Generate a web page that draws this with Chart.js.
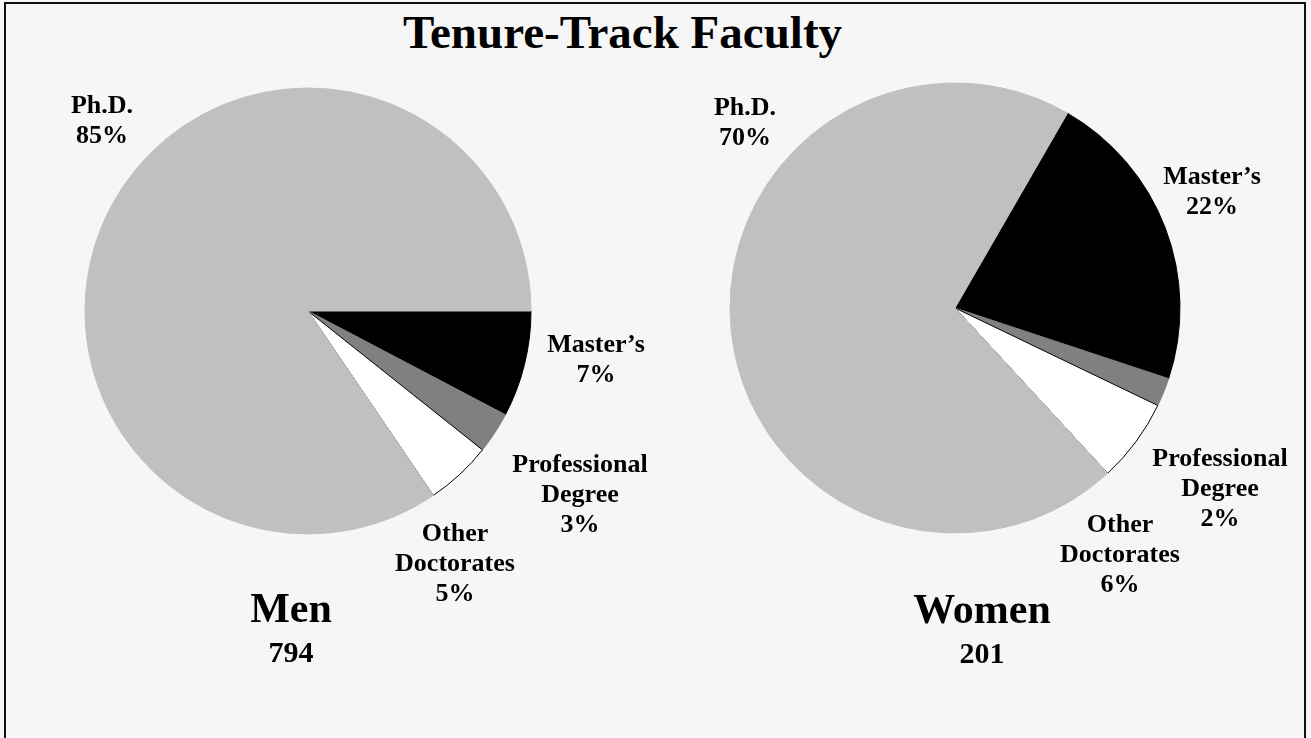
<!DOCTYPE html>
<html>
<head>
<meta charset="utf-8">
<script src="https://cdn.jsdelivr.net/npm/chart.js@4"></script>
<style>
  body { margin: 0; background: #f6f6f6; width: 1311px; height: 738px; overflow: hidden; position: relative; }
  #frame { position: absolute; left: 4px; top: 2px; width: 1302px; height: 760px; border: 2px solid #111; box-sizing: border-box; }
  #title { position: absolute; left: 0; width: 1245px; top: 9px; text-align: center; font: bold 47px "Liberation Serif", "Times New Roman", serif; line-height: 47px; color: #000; }
  canvas { position: absolute; top: 0; }
</style>
</head>
<body>
<div id="frame"></div>
<div id="title">Tenure-Track Faculty</div>
<canvas id="menChart" width="655" height="738" style="left:0px"></canvas>
<canvas id="womenChart" width="656" height="738" style="left:655px"></canvas>
<script>
// slice order: Master's, Professional Degree, Other Doctorates, Ph.D.
const categories = [["Master\u2019s"], ["Professional", "Degree"], ["Other", "Doctorates"], ["Ph.D."]];
const menValues = [7.7, 3.0, 4.8, 84.5];
const womenValues = [21.75, 2.05, 6.0, 70.2];
const menPct = ["7%", "3%", "5%", "85%"];
const womenPct = ["22%", "2%", "6%", "70%"];
const groupNames = ["Men", "Women"];
const groupTotals = ["794", "201"];

const sliceColors = ["#000000", "#808080", "#ffffff", "#c0c0c0"];
const edgeColors = ["#000000", "#808080", "#000000", "#c0c0c0"];
const serif = '"Liberation Serif", "Times New Roman", serif';

// text spots, px offsets from the pie centre (first baseline)
const menSpots = [[288, 41], [272, 161], [147, 230], [-206, -198]];
const womenSpots = [[257, -124], [265, 158], [165, 224], [-210, -193]];

const sliceLabels = {
  id: "sliceLabels",
  afterDraw(chart, args, opts) {
    const ctx = chart.ctx;
    const arc = chart.getDatasetMeta(0).data[0];
    const cx = arc.x, cy = arc.y;
    ctx.save();
    ctx.fillStyle = "#000";
    ctx.textAlign = "center";
    ctx.textBaseline = "alphabetic";
    ctx.font = "bold 26px " + serif;
    for (let i = 0; i < categories.length; i++) {
      const lines = categories[i].concat([opts.pct[i]]);
      const s = opts.spots[i];
      lines.forEach((t, j) => ctx.fillText(t, cx + s[0], cy + s[1] + j * 30));
    }
    ctx.font = "bold 42px " + serif;
    ctx.fillText(opts.name, cx + opts.caption[0], cy + opts.caption[1]);
    ctx.font = "bold 30px " + serif;
    ctx.fillText(opts.total, cx + opts.caption[0], cy + opts.caption[1] + 40);
    ctx.restore();
  }
};

function makePie(id, values, pct, spots, rotation, padding, idx, caption) {
  return new Chart(document.getElementById(id), {
    type: "pie",
    data: {
      labels: categories.map(c => c.join(" ")),
      datasets: [{
        data: values,
        backgroundColor: sliceColors,
        borderColor: edgeColors,
        borderWidth: 1,
      }]
    },
    options: {
      responsive: false,
      animation: false,
      rotation: rotation,
      layout: { padding: padding },
      plugins: {
        legend: { display: false },
        tooltip: { enabled: false },
        sliceLabels: { pct: pct, spots: spots, name: groupNames[idx], total: groupTotals[idx], caption: caption }
      }
    },
    plugins: [sliceLabels]
  });
}

makePie("menChart", menValues, menPct, menSpots, 90,
  { left: 84.5, top: 87.5, right: 123.5, bottom: 203.5 }, 0, [-17, 311]);
makePie("womenChart", womenValues, womenPct, womenSpots, 30,
  { left: 74.5, top: 82.5, right: 130.5, bottom: 204.5 }, 1, [27, 315]);
</script>
</body>
</html>
